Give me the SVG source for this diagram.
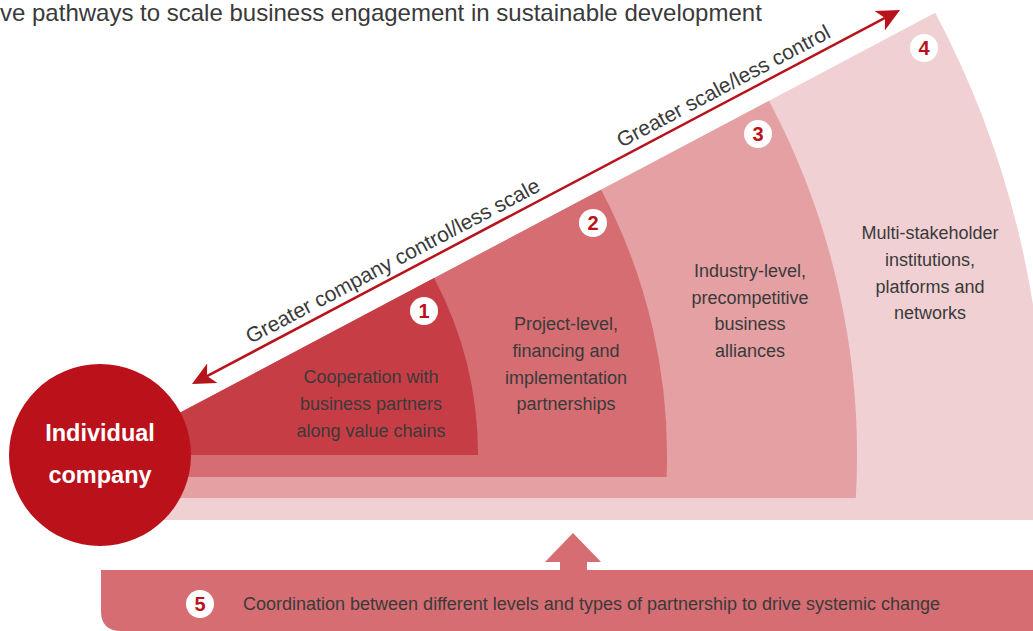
<svg xmlns="http://www.w3.org/2000/svg" width="1033" height="631" viewBox="0 0 1033 631">
  <style>
    .lbl { font-family: "Liberation Sans", Arial, sans-serif; font-size: 18px; fill: #3a3a3a; text-anchor: middle; }
    .axis { font-family: "Liberation Sans", Arial, sans-serif; font-size: 21px; fill: #3a3a3a; text-anchor: middle; }
    .num { font-family: "Liberation Sans", Arial, sans-serif; font-size: 20px; font-weight: bold; fill: #bb111a; text-anchor: middle; }
    .badge { fill: #ffffff; }
    .w1 { fill: #c73d46; }
    .w2 { fill: #d56d72; }
    .w3 { fill: #e4a0a3; }
    .w4 { fill: #f0d0d3; }
  </style>
  <defs>
    <marker id="ah" markerUnits="userSpaceOnUse" markerWidth="26" markerHeight="24" viewBox="0 -12 26 24" refX="6" refY="0" orient="auto-start-reverse">
      <path d="M0,-11 L23,0 L0,11 L6,0 Z" fill="#b8121b"/>
    </marker>
  </defs>
  <rect width="1033" height="631" fill="#ffffff"/>

  <text x="0" y="20.5" style="font-family:'Liberation Sans', Arial, sans-serif; font-size:24px; fill:#3a3a3a;">ve pathways to scale business engagement in sustainable development</text>

  <g id="wedge4">
    <path class="w4" d="M100,455 L935.2,12.8 A945,945 0 0 1 1042.8,520 L100,520 Z"/>
    <circle class="badge" cx="924" cy="48" r="14"/>
    <text class="num" x="924" y="55">4</text>
    <text class="lbl" x="930" y="239">Multi-stakeholder</text>
    <text class="lbl" x="930" y="266">institutions,</text>
    <text class="lbl" x="930" y="293">platforms and</text>
    <text class="lbl" x="930" y="319">networks</text>
  </g>

  <g id="wedge3">
    <path class="w3" d="M100,455 L769,100.8 A757,757 0 0 1 855.8,498 L100,498 Z"/>
    <circle class="badge" cx="758" cy="134" r="14"/>
    <text class="num" x="758" y="141">3</text>
    <text class="lbl" x="750" y="277">Industry-level,</text>
    <text class="lbl" x="750" y="304">precompetitive</text>
    <text class="lbl" x="750" y="330">business</text>
    <text class="lbl" x="750" y="357">alliances</text>
  </g>

  <g id="wedge2">
    <path class="w2" d="M100,455 L601.1,189.7 A567,567 0 0 1 666.6,477 L100,477 Z"/>
    <circle class="badge" cx="593" cy="223" r="14"/>
    <text class="num" x="593" y="230">2</text>
    <text class="lbl" x="566" y="330">Project-level,</text>
    <text class="lbl" x="566" y="357">financing and</text>
    <text class="lbl" x="566" y="384">implementation</text>
    <text class="lbl" x="566" y="410">partnerships</text>
  </g>

  <g id="wedge1">
    <path class="w1" d="M100,455 L434.1,278.1 A378,378 0 0 1 478,455 Z"/>
    <circle class="badge" cx="424" cy="311" r="14"/>
    <text class="num" x="424" y="318">1</text>
    <text class="lbl" x="371" y="383">Cooperation with</text>
    <text class="lbl" x="371" y="410">business partners</text>
    <text class="lbl" x="371" y="437">along value chains</text>
  </g>

  <g id="company">
    <circle cx="100" cy="455" r="91" fill="#bb111a"/>
    <text x="100" y="440.5" style="font-family:'Liberation Sans', Arial, sans-serif; font-size:23.5px; font-weight:bold; fill:#ffffff; text-anchor:middle;">Individual</text>
    <text x="100" y="483" style="font-family:'Liberation Sans', Arial, sans-serif; font-size:23.5px; font-weight:bold; fill:#ffffff; text-anchor:middle;">company</text>
  </g>

  <g id="coordination">
    <path d="M1033,570 L101,570 L101,611 Q101,631 121,631 L1033,631 Z" fill="#d56d72"/>
    <circle class="badge" cx="200" cy="604" r="14"/>
    <text class="num" x="200" y="611">5</text>
    <text x="243" y="610" style="font-family:'Liberation Sans', Arial, sans-serif; font-size:18px; fill:#3a3a3a;">Coordination between different levels and types of partnership to drive systemic change</text>
  </g>

  <g id="connectors">
    <line x1="207" y1="376.1" x2="885" y2="17.9" stroke="#b8121b" stroke-width="2.5" marker-start="url(#ah)" marker-end="url(#ah)"/>
    <g transform="translate(192,384) rotate(-27.85)">
      <text class="axis" x="235" y="-8">Greater company control/less scale</text>
      <text class="axis" x="609" y="-8">Greater scale/less control</text>
    </g>
    <path d="M573,533 L601,562 L587,562 L587,571 L560,571 L560,562 L545,562 Z" fill="#d56d72"/>
  </g>
</svg>
